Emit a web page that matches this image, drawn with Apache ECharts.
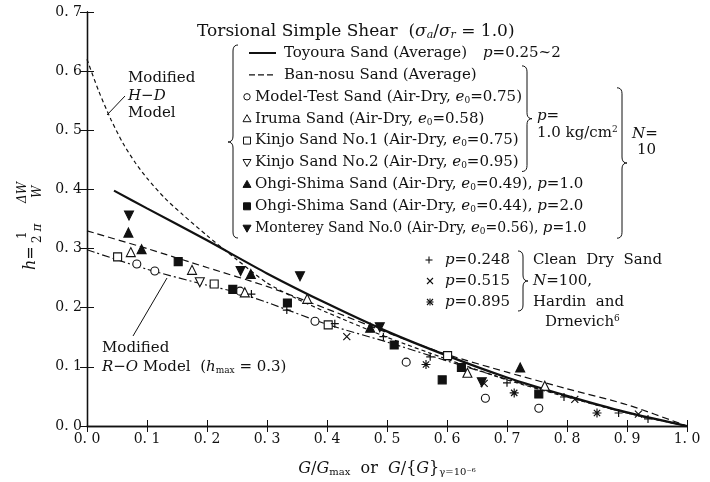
<!DOCTYPE html>
<html>
<head>
<meta charset="utf-8">
<script src="https://cdn.jsdelivr.net/npm/echarts/dist/echarts.min.js"></script>
<style>
  html, body { margin: 0; padding: 0; background: #fff; }
  #chart { width: 710px; height: 482px; }
</style>
</head>
<body>
<div id="chart"></div>
<script>
// ---- curves ----
var toyouraX = [0.045, 0.1, 0.2, 0.3, 0.4, 0.5, 0.6, 0.7, 0.8, 0.9, 1.0];
var toyouraY = [0.398, 0.368, 0.314, 0.258, 0.207, 0.160, 0.119, 0.082, 0.051, 0.023, 0.0];

var banNosuX = [0, 0.1, 0.2, 0.3, 0.4, 0.5, 0.6, 0.7, 0.8, 0.9, 1.0];
var banNosuY = [0.33, 0.300, 0.268, 0.236, 0.198, 0.158, 0.121, 0.091, 0.063, 0.036, 0.0];

var hdX = [0, 0.02, 0.04, 0.06, 0.08, 0.10, 0.13, 0.16, 0.20, 0.25, 0.30, 0.35, 0.40, 0.50, 0.60, 0.70, 0.80, 0.90, 1.0];
var hdY = [0.62, 0.565, 0.518, 0.478, 0.446, 0.419, 0.385, 0.357, 0.322, 0.281, 0.242, 0.215, 0.192, 0.150, 0.113, 0.078, 0.049, 0.022, 0.0];

var roX = [0, 0.1, 0.2, 0.25, 0.3, 0.4, 0.5, 0.6, 0.7, 0.8, 0.9, 1.0];
var roY = [0.298, 0.265, 0.238, 0.226, 0.209, 0.172, 0.142, 0.110, 0.079, 0.050, 0.022, 0.0];

// ---- test points ----
var modelTest = [[0.083, 0.274], [0.113, 0.262], [0.255, 0.228], [0.38, 0.177], [0.532, 0.108], [0.664, 0.047], [0.753, 0.030]];
var iruma = [[0.073, 0.294], [0.175, 0.264], [0.263, 0.226], [0.367, 0.215], [0.634, 0.090], [0.763, 0.068]];
var kinjo1 = [[0.051, 0.286], [0.212, 0.240], [0.402, 0.171], [0.601, 0.119]];
var kinjo2 = [[0.188, 0.243]];
var ohgi1 = [[0.069, 0.327], [0.091, 0.299], [0.273, 0.257], [0.472, 0.166], [0.722, 0.099]];
var ohgi2 = [[0.152, 0.278], [0.243, 0.231], [0.334, 0.208], [0.512, 0.137], [0.592, 0.078], [0.624, 0.099], [0.753, 0.054]];
var monterey = [[0.070, 0.356], [0.256, 0.262], [0.355, 0.253], [0.488, 0.167], [0.658, 0.074]];
var hdP248 = [[0.274, 0.223], [0.333, 0.196], [0.413, 0.173], [0.494, 0.151], [0.572, 0.117], [0.70, 0.073], [0.795, 0.049], [0.886, 0.022], [0.935, 0.012]];
var hdP515 = [[0.433, 0.151], [0.662, 0.072], [0.813, 0.045], [0.919, 0.020]];
var hdP895 = [[0.565, 0.104], [0.712, 0.056], [0.850, 0.022]];

var xTicks = [0, 1, 0.1];
var yTicks = [0, 0.7, 0.1];

var SERIF = '"DejaVu Serif", "Liberation Serif", serif';
var INK = '#111';
var PLUS = 'path://M5,0L5,10M0,5L10,5';
var CROSS = 'path://M0,0L10,10M10,0L0,10';
var STAR = 'path://M5,0L5,10M0,5L10,5M1.5,1.5L8.5,8.5M8.5,1.5L1.5,8.5';

function zip(xs, ys) {
  return xs.map(function (x, i) { return [x, ys[i]]; });
}

function rich(size) {
  var s = {};
  s.i = { fontFamily: SERIF, fontSize: size, fontStyle: 'italic', fill: INK, color: INK };
  s.sub = { fontFamily: SERIF, fontSize: Math.round(size * 0.62), fill: INK, color: INK, padding: [7, 0, 0, 0] };
  s.isub = { fontFamily: SERIF, fontSize: Math.round(size * 0.62), fontStyle: 'italic', fill: INK, color: INK, padding: [7, 0, 0, 0] };
  s.sup = { fontFamily: SERIF, fontSize: Math.round(size * 0.6), fill: INK, color: INK, padding: [0, 0, 7, 0] };
  return s;
}

function txt(x, y, text, size, extra) {
  var st = {
    text: text, x: x, y: y, fill: INK,
    fontFamily: SERIF, fontSize: size,
    align: 'left', verticalAlign: 'middle',
    rich: rich(size)
  };
  if (extra) for (var k in extra) st[k] = extra[k];
  return { type: 'text', silent: true, z: 100, style: st };
}

function seg(x1, y1, x2, y2, w) {
  return { type: 'line', silent: true, z: 100, shape: { x1: x1, y1: y1, x2: x2, y2: y2 }, style: { stroke: INK, lineWidth: w || 1 } };
}

function lineSeries(name, xs, ys, width, dash) {
  return {
    name: name, type: 'line', data: zip(xs, ys),
    showSymbol: false, smooth: 0.25,
    lineStyle: { color: INK, width: width, type: dash },
    z: 2, silent: true
  };
}

function dots(name, data, symbol, size, filled, rotate) {
  return {
    name: name, type: 'scatter', data: data,
    symbol: symbol, symbolSize: size, symbolRotate: rotate || 0,
    itemStyle: {
      opacity: 1,
      color: filled === 'line' ? 'rgba(0,0,0,0)' : (filled ? INK : '#fff'),
      borderColor: INK, borderWidth: filled === 'line' ? 1.2 : 1.1
    },
    z: 5, silent: true
  };
}

// legend marks, drawn by hand since the block uses braces
function mark(kind, cx, cy) {
  var h = 4;
  var open = { fill: '#fff', stroke: INK, lineWidth: 1 };
  var full = { fill: INK, stroke: INK, lineWidth: 1 };
  if (kind === 'circle') return { type: 'circle', shape: { cx: cx, cy: cy, r: 3.2 }, style: open, z: 100 };
  if (kind === 'rect') return { type: 'rect', shape: { x: cx - 3.5, y: cy - 3.5, width: 7, height: 7 }, style: open, z: 100 };
  if (kind === 'rectF') return { type: 'rect', shape: { x: cx - 3.5, y: cy - 3.5, width: 7, height: 7 }, style: full, z: 100 };
  var up = [[cx, cy - h], [cx + h, cy + h - 1], [cx - h, cy + h - 1]];
  var dn = [[cx, cy + h], [cx + h, cy - h + 1], [cx - h, cy - h + 1]];
  if (kind === 'tri') return { type: 'polygon', shape: { points: up }, style: open, z: 100 };
  if (kind === 'triF') return { type: 'polygon', shape: { points: up }, style: full, z: 100 };
  if (kind === 'triD') return { type: 'polygon', shape: { points: dn }, style: open, z: 100 };
  if (kind === 'triDF') return { type: 'polygon', shape: { points: dn }, style: full, z: 100 };
  var parts = [];
  if (kind === 'plus' || kind === 'star') {
    parts.push(seg(cx, cy - 3.5, cx, cy + 3.5, 1.1), seg(cx - 3.5, cy, cx + 3.5, cy, 1.1));
  }
  if (kind === 'cross' || kind === 'star') {
    parts.push(seg(cx - 3, cy - 3, cx + 3, cy + 3, 1.1), seg(cx + 3, cy - 3, cx - 3, cy + 3, 1.1));
  }
  return { type: 'group', children: parts };
}

// quadratic curve sampled into points
function quad(pts, a, c, b) {
  for (var t = 0.2; t <= 1.001; t += 0.2) {
    var u = 1 - t;
    pts.push([u * u * a[0] + 2 * u * t * c[0] + t * t * b[0], u * u * a[1] + 2 * u * t * c[1] + t * t * b[1]]);
  }
}

function brace(x, y1, y2, dir, ym) {
  // dir = 1 is "{", dir = -1 is "}"
  var m = ym || (y1 + y2) / 2, k = 5 * dir;
  var pts = [[x + k, y1]];
  quad(pts, [x + k, y1], [x, y1], [x, y1 + 6]);
  pts.push([x, m - 6]);
  quad(pts, [x, m - 6], [x, m], [x - k, m]);
  quad(pts, [x - k, m], [x, m], [x, m + 6]);
  pts.push([x, y2 - 6]);
  quad(pts, [x, y2 - 6], [x, y2], [x + k, y2]);
  return { type: 'polyline', shape: { points: pts }, style: { fill: null, stroke: INK, lineWidth: 1 }, z: 100, silent: true };
}

var rowY = [];
for (var r = 0; r < 9; r++) rowY.push(53 + r * 21.9);

var LX = 247, LT = 255, FS = 15;
var graphics = [
  txt(197, 32, 'Torsional Simple Shear  ({i|σ}{isub|a}/{i|σ}{isub|r} = 1.0)', 17),
  brace(233, 45, 238, 1, 142),
  seg(249, rowY[0], 276, rowY[0], 2),
  txt(284, rowY[0], 'Toyoura Sand (Average)', FS),
  txt(483, rowY[0], '{i|p}=0.25~2', FS),
  { type: 'line', shape: { x1: 249, y1: rowY[1], x2: 276, y2: rowY[1] }, style: { stroke: INK, lineWidth: 1.2, lineDash: [6, 3] }, z: 100 },
  txt(284, rowY[1], 'Ban-nosu Sand (Average)', FS),
  mark('circle', LX, rowY[2]), txt(LT, rowY[2], 'Model-Test Sand (Air-Dry, {i|e}{sub|0}=0.75)', FS),
  mark('tri', LX, rowY[3]), txt(LT, rowY[3], 'Iruma Sand (Air-Dry, {i|e}{sub|0}=0.58)', FS),
  mark('rect', LX, rowY[4]), txt(LT, rowY[4], 'Kinjo Sand No.1 (Air-Dry, {i|e}{sub|0}=0.75)', FS),
  mark('triD', LX, rowY[5]), txt(LT, rowY[5], 'Kinjo Sand No.2 (Air-Dry, {i|e}{sub|0}=0.95)', FS),
  mark('triF', LX, rowY[6]), txt(LT, rowY[6], 'Ohgi-Shima Sand (Air-Dry, {i|e}{sub|0}=0.49), {i|p}=1.0', FS),
  mark('rectF', LX, rowY[7]), txt(LT, rowY[7], 'Ohgi-Shima Sand (Air-Dry, {i|e}{sub|0}=0.44), {i|p}=2.0', FS),
  mark('triDF', LX, rowY[8]), txt(LT, rowY[8], 'Monterey Sand No.0 (Air-Dry, {i|e}{sub|0}=0.56), {i|p}=1.0', FS, { fontSize: 14 }),
  brace(527, rowY[1] - 9, rowY[5] + 9, -1),
  txt(537, 116, '{i|p}=', FS),
  txt(537, 133, '1.0 kg/cm{sup|2}', FS),
  brace(622, rowY[2] - 9, rowY[8] + 10, -1),
  txt(632, 134, '{i|N}=', FS),
  txt(637, 150, '10', FS),

  mark('plus', 429, 260), txt(445, 260, '{i|p}=0.248', FS),
  mark('cross', 430, 281), txt(445, 281, '{i|p}=0.515', FS),
  mark('star', 430, 302), txt(445, 302, '{i|p}=0.895', FS),
  brace(523, 251, 311, -1),
  txt(533, 260, 'Clean  Dry  Sand', FS),
  txt(533, 281, '{i|N}=100,', FS),
  txt(533, 302, 'Hardin  and', FS),
  txt(545, 322, 'Drnevich{sup|6}', FS),

  txt(128, 78, 'Modified', FS),
  txt(128, 96, '{i|H−D}', FS),
  txt(128, 113, 'Model', FS),
  seg(107, 115, 125, 96),

  txt(102, 348, 'Modified', FS),
  txt(102, 367, '{i|R−O} Model  ({i|h}{sub|max} = 0.3)', FS),
  seg(133, 336, 167, 278),

  // rotated y-axis title  h = (1 / 2π) (ΔW / W)
  {
    type: 'group', x: 31, y: 225, rotation: Math.PI / 2, silent: true,
    children: [
      txt(-45, 0, '{i|h}=', 16),
      txt(-14, -8, '1', 12),
      txt(-18, 7, '2 {i|π}', 12),
      txt(22, -8, '{i|ΔW}', 12),
      txt(27, 7, '{i|W}', 12)
    ]
  }
];

var option = {
  backgroundColor: '#fff',
  animation: false,
  grid: { left: 87, right: 23, top: 12, bottom: 50, containLabel: false },
  xAxis: [
    {
      type: 'value', min: xTicks[0], max: xTicks[1], interval: xTicks[2],
      name: '{i|G}/{i|G}{sub|max}  or  {i|G}/{{i|G}}{sub|γ=10⁻⁶}',
      nameLocation: 'middle', nameGap: 34,
      nameTextStyle: { fontFamily: SERIF, fontSize: 16, color: INK, rich: rich(16) },
      axisLine: { lineStyle: { color: INK, width: 1.3 } },
      axisTick: { inside: true, length: 6, lineStyle: { color: INK } },
      axisLabel: {
        fontFamily: SERIF, fontSize: 14, color: INK, margin: 6,
        formatter: function (v) { return v.toFixed(1).replace('.', '. '); }
      },
      splitLine: { show: false }
    },
    {
      type: 'value', position: 'top', min: xTicks[0], max: xTicks[1], interval: xTicks[2],
      axisLine: { lineStyle: { color: INK, width: 1.3 } },
      axisTick: { inside: true, length: 6, lineStyle: { color: INK } },
      axisLabel: { show: false }, splitLine: { show: false }
    }
  ],
  yAxis: [
    {
      type: 'value', min: yTicks[0], max: yTicks[1], interval: yTicks[2],
      axisLine: { show: true, lineStyle: { color: INK, width: 1.3 } },
      axisTick: { show: true, inside: true, length: 7, lineStyle: { color: INK } },
      axisLabel: {
        fontFamily: SERIF, fontSize: 14, color: INK, margin: 5,
        formatter: function (v) { return v.toFixed(1).replace('.', '. '); }
      },
      splitLine: { show: false }
    },
    {
      type: 'value', position: 'right', min: yTicks[0], max: yTicks[1], interval: yTicks[2],
      axisLine: { show: true, lineStyle: { color: INK, width: 1.3 } },
      axisTick: { show: true, inside: true, length: 7, lineStyle: { color: INK } },
      axisLabel: { show: false }, splitLine: { show: false }
    }
  ],
  series: [
    lineSeries('Toyoura Sand (Average)', toyouraX, toyouraY, 2.2, 'solid'),
    lineSeries('Ban-nosu Sand (Average)', banNosuX, banNosuY, 1.2, [7, 4]),
    lineSeries('Modified H-D Model', hdX, hdY, 1.2, [4, 3]),
    lineSeries('Modified R-O Model', roX, roY, 1.2, [8, 3, 2, 3]),
    dots('Model-Test Sand', modelTest, 'circle', 8, false),
    dots('Iruma Sand', iruma, 'triangle', 9, false),
    dots('Kinjo Sand No.1', kinjo1, 'rect', 8, false),
    dots('Kinjo Sand No.2', kinjo2, 'triangle', 9, false, 180),
    dots('Ohgi-Shima Sand p=1.0', ohgi1, 'triangle', 9, true),
    dots('Ohgi-Shima Sand p=2.0', ohgi2, 'rect', 8, true),
    dots('Monterey Sand No.0', monterey, 'triangle', 9, true, 180),
    dots('p=0.248', hdP248, PLUS, 8, 'line'),
    dots('p=0.515', hdP515, CROSS, 7, 'line'),
    dots('p=0.895', hdP895, STAR, 9, 'line')
  ],
  graphic: graphics
};

var chart = echarts.init(document.getElementById('chart'));
chart.setOption(option);
</script>
</body>
</html>
